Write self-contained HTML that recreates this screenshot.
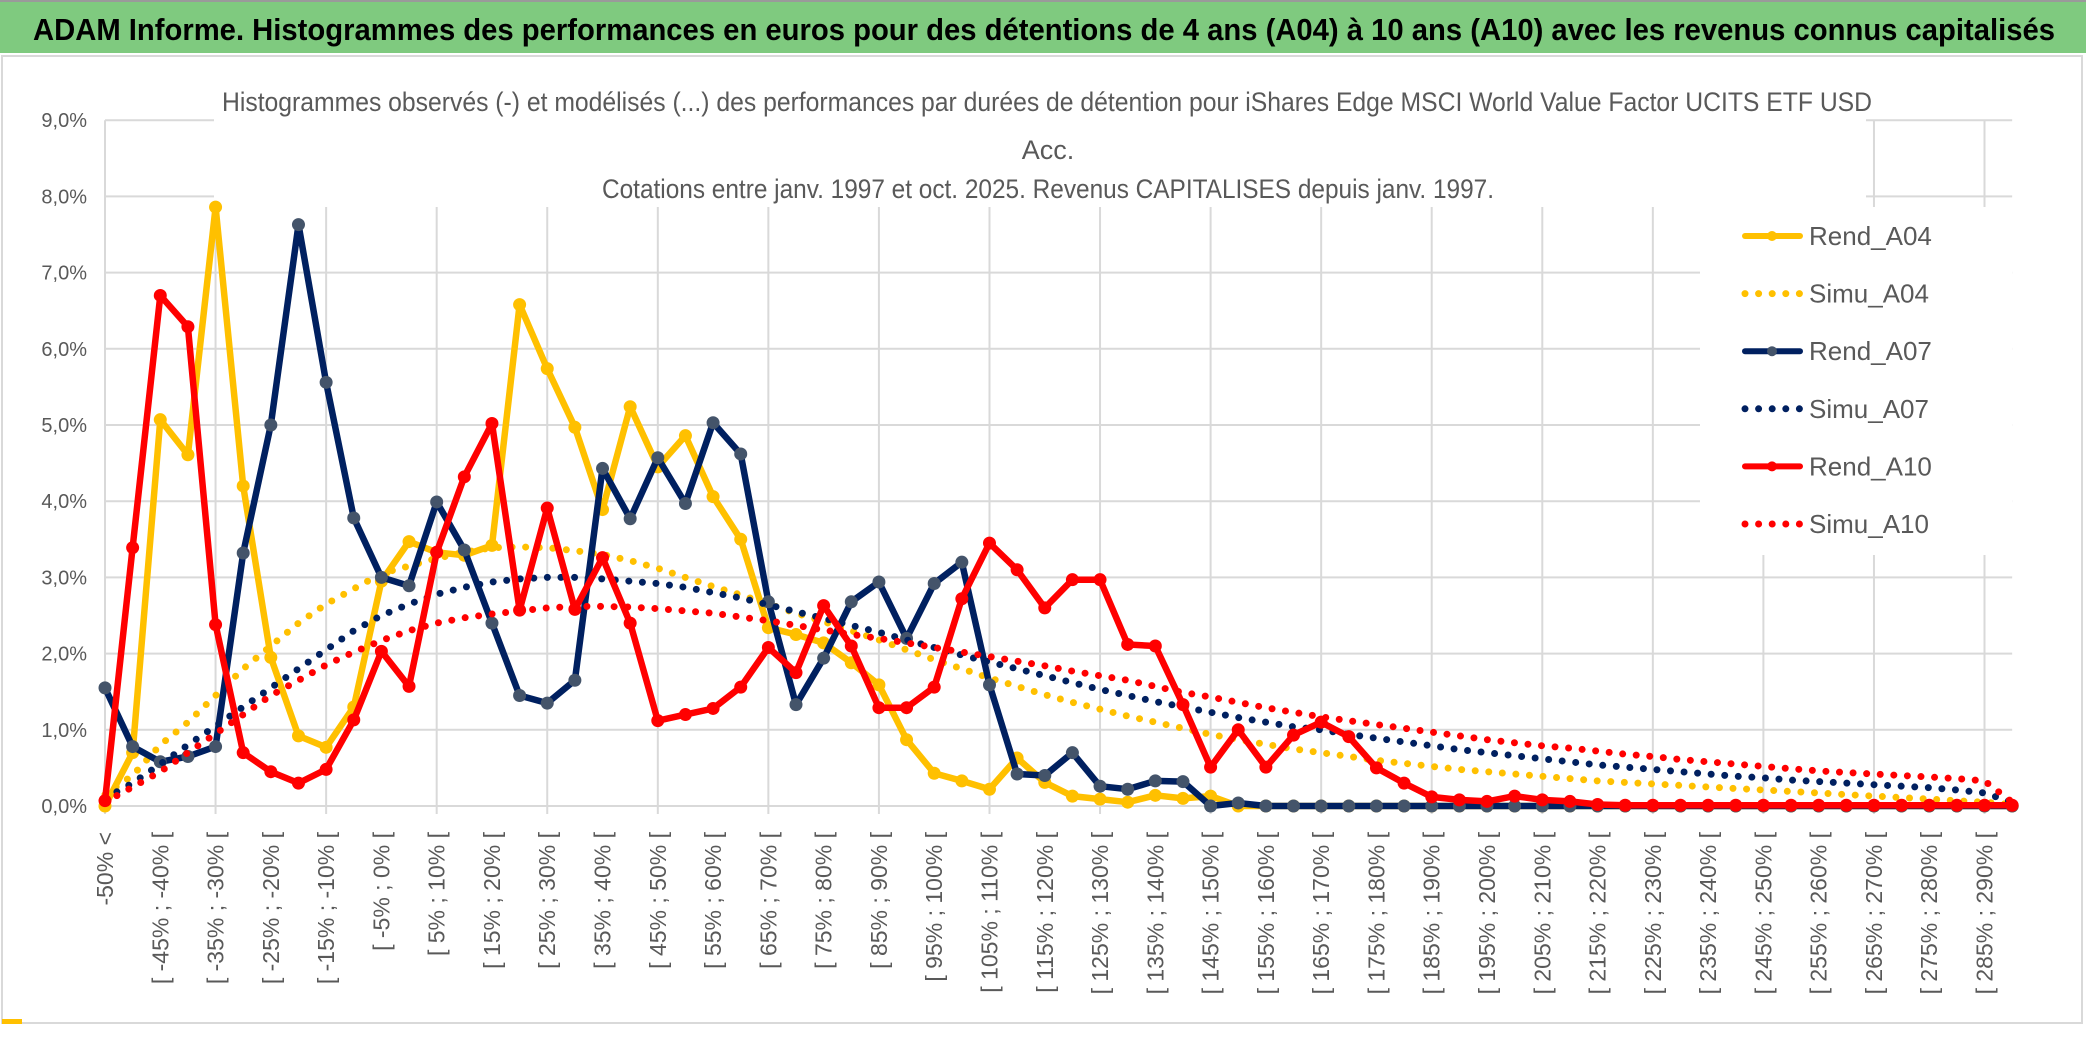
<!DOCTYPE html>
<html><head><meta charset="utf-8"><title>ADAM Informe</title>
<style>
html,body{margin:0;padding:0;background:#fff;}
body{width:2086px;height:1033px;overflow:hidden;font-family:"Liberation Sans",sans-serif;}
svg text{font-family:"Liberation Sans",sans-serif;}
</style></head>
<body>
<svg id="chart" width="2086" height="1033" viewBox="0 0 2086 1033" xmlns="http://www.w3.org/2000/svg">
  <rect x="0" y="0" width="2086" height="1033" fill="#fff"/>
  <rect x="0" y="0" width="2086" height="53" fill="#7fca7f"/>
  <line x1="0" y1="1" x2="2086" y2="1" stroke="#9a9a9a" stroke-width="2"/>
  <text x="33" y="40" font-size="31" font-weight="bold" fill="#000" textLength="2022" lengthAdjust="spacingAndGlyphs">ADAM Informe. Histogrammes des performances en euros pour des détentions de 4 ans (A04) à 10 ans (A10) avec les revenus connus capitalisés</text>
  <rect x="2" y="56" width="2080" height="967" fill="none" stroke="#d9d9d9" stroke-width="2"/>
  <g id="grid"></g>
  <rect x="214" y="58" width="1652" height="149" fill="#fff"/>
  <text x="222" y="111" font-size="27" fill="#595959" textLength="1650" lengthAdjust="spacingAndGlyphs">Histogrammes observés (-) et modélisés (...) des performances par durées de détention pour iShares Edge MSCI World Value Factor UCITS ETF USD</text>
  <text x="1048" y="159" font-size="27" fill="#595959" text-anchor="middle">Acc.</text>
  <text x="602" y="198" font-size="27" fill="#595959" textLength="892" lengthAdjust="spacingAndGlyphs">Cotations entre janv. 1997 et oct. 2025. Revenus CAPITALISES depuis janv. 1997.</text>
  <rect x="1700" y="207" width="312" height="348" fill="#fff"/>
  <g id="yaxis"></g>
  <g id="xaxis"></g>
  <g id="series"></g>
  <g id="legend"></g>
  <rect x="2" y="1019" width="20" height="5" fill="#ffc000"/>
</svg>
<script>
const yTicks = [0,1,2,3,4,5,6,7,8,9];
const rendA04 = [0.0,0.7,5.07,4.61,7.86,4.2,1.95,0.92,0.77,1.3,2.95,3.47,3.33,3.29,3.42,6.58,5.74,4.97,3.89,5.24,4.45,4.86,4.06,3.5,2.34,2.25,2.14,1.88,1.59,0.87,0.43,0.33,0.22,0.63,0.31,0.13,0.09,0.05,0.14,0.1,0.13,0,0,0,0,0,0,0,0,0,0,0,0,0,0,0,0,0,0,0,0,0,0,0,0,0,0,0,0,0];
const simuA04 = [0.15,0.4,0.8,1.1,1.45,1.8,2.1,2.4,2.65,2.85,3.05,3.15,3.25,3.33,3.39,3.4,3.39,3.35,3.3,3.22,3.12,3.0,2.88,2.77,2.65,2.53,2.42,2.3,2.18,2.05,1.92,1.8,1.68,1.57,1.46,1.36,1.27,1.18,1.1,1.02,0.94,0.87,0.81,0.75,0.7,0.65,0.6,0.56,0.52,0.48,0.45,0.42,0.39,0.36,0.33,0.31,0.29,0.27,0.25,0.23,0.21,0.19,0.17,0.15,0.13,0.11,0.09,0.07,0.05,0.02];
const rendA07 = [1.55,0.78,0.58,0.65,0.78,3.32,5.0,7.63,5.56,3.78,3.0,2.89,3.99,3.36,2.4,1.45,1.35,1.65,4.43,3.77,4.57,3.97,5.03,4.62,2.68,1.33,1.94,2.68,2.94,2.2,2.92,3.2,1.59,0.42,0.4,0.7,0.26,0.22,0.33,0.32,0,0.04,0,0,0,0,0,0,0,0,0,0,0,0,0,0,0,0,0,0,0,0,0,0,0,0,0,0,0,0];
const simuA07 = [0.1,0.3,0.55,0.8,1.05,1.3,1.55,1.8,2.05,2.3,2.5,2.65,2.78,2.87,2.94,2.98,3.0,3.0,2.98,2.95,2.92,2.87,2.8,2.73,2.64,2.55,2.46,2.37,2.28,2.18,2.08,1.98,1.89,1.8,1.71,1.62,1.53,1.45,1.37,1.3,1.23,1.16,1.1,1.04,1.0,0.94,0.89,0.84,0.79,0.74,0.7,0.66,0.62,0.58,0.54,0.51,0.48,0.45,0.42,0.39,0.37,0.34,0.32,0.3,0.28,0.26,0.24,0.21,0.17,0.05];
const rendA10 = [0.07,3.39,6.7,6.29,2.38,0.7,0.45,0.3,0.48,1.13,2.03,1.57,3.33,4.32,5.02,2.57,3.91,2.58,3.26,2.4,1.12,1.2,1.28,1.56,2.08,1.75,2.63,2.1,1.29,1.29,1.56,2.72,3.45,3.1,2.6,2.97,2.97,2.12,2.1,1.33,0.51,1.0,0.51,0.93,1.1,0.91,0.5,0.3,0.12,0.08,0.06,0.13,0.08,0.06,0.02,0.01,0.01,0.01,0.01,0.01,0.01,0.01,0.01,0.01,0.01,0.01,0.01,0.01,0.01,0.01];
const simuA10 = [0.05,0.25,0.45,0.7,0.95,1.2,1.45,1.65,1.85,2.02,2.17,2.3,2.4,2.47,2.52,2.56,2.6,2.62,2.62,2.61,2.59,2.56,2.53,2.48,2.43,2.37,2.31,2.25,2.2,2.14,2.08,2.02,1.96,1.9,1.84,1.77,1.71,1.65,1.57,1.49,1.43,1.36,1.29,1.23,1.17,1.12,1.07,1.02,0.97,0.92,0.87,0.83,0.79,0.76,0.72,0.68,0.65,0.61,0.58,0.55,0.52,0.49,0.46,0.44,0.42,0.4,0.38,0.36,0.33,0.05];
const legendLabels = ["Rend_A04","Simu_A04","Rend_A07","Simu_A07","Rend_A10","Simu_A10"];

const categories = [];
categories.push("-50% <");
for (let k = 1; k < 70; k++) { const lo = -50 + 5*(k-1); categories.push("[ " + lo + "% ; " + (lo+5) + "% ["); }

const NS = "http://www.w3.org/2000/svg";
const X0 = 105, STEP = 27.64, Y0 = 806, PER = 76.2;
function xs(k){ return X0 + STEP*k; }
function ys(v){ return Y0 - PER*v; }
function mk(tag, attrs, parent){ const e = document.createElementNS(NS, tag); for (const a in attrs) e.setAttribute(a, attrs[a]); parent.appendChild(e); return e; }

const grid = document.getElementById('grid');
yTicks.forEach(t => {
  const l = mk('line', {x1: X0, x2: xs(categories.length-1), y1: ys(t), y2: ys(t), stroke: '#d9d9d9', 'stroke-width': 2}, grid);
  
  
});
for (let k = 0; k < categories.length; k += 4) {
  const l = mk('line', {x1: xs(k), x2: xs(k), y1: ys(yTicks[yTicks.length-1]), y2: Y0 + 8, stroke: '#d9d9d9', 'stroke-width': 2}, grid);
  
  
}

const yaxis = document.getElementById('yaxis');
yTicks.forEach(t => {
  const tx = mk('text', {x: 87, y: ys(t) + 7, 'text-anchor': 'end', 'font-size': 20, fill: '#595959'}, yaxis);
  tx.textContent = t.toFixed(1).replace('.', ',') + '%';
  
  
});

const xaxis = document.getElementById('xaxis');
for (let k = 0; k < categories.length; k += 2) {
  const cx = xs(k) + 8;
  const tx = mk('text', {x: cx, y: 832, 'text-anchor': 'end', 'font-size': 23, fill: '#595959', transform: 'rotate(-90 ' + cx + ' 832)'}, xaxis);
  tx.textContent = categories[k];
  
  
}

const series = document.getElementById('series');
function pts(arr){ return arr.map((v,k) => xs(k).toFixed(1) + ',' + ys(v).toFixed(1)).join(' '); }
function drawRend(arr, color, mcolor, name){
  const g = mk('g', {}, series);
  
  
  const pl = mk('polyline', {points: pts(arr), fill: 'none', stroke: color, 'stroke-width': 6.5, 'stroke-linejoin': 'round', 'stroke-linecap': 'round'}, g);
  
  
  arr.forEach((v,k) => {
    const c = mk('circle', {cx: xs(k), cy: ys(v), r: 6.5, fill: mcolor}, g);
    
    
  });
}
function drawSimu(arr, color, name){
  const pl = mk('polyline', {points: pts(arr), fill: 'none', stroke: color, 'stroke-width': 7, 'stroke-linecap': 'round', 'stroke-dasharray': '0 13.6'}, series);
  
  
}
drawRend(rendA04, '#ffc000', '#ffc000', 'rend-a04');
drawSimu(simuA04, '#ffc000', 'simu-a04');
drawRend(rendA07, '#002060', '#44546a', 'rend-a07');
drawSimu(simuA07, '#002060', 'simu-a07');
drawRend(rendA10, '#ff0000', '#ff0000', 'rend-a10');
drawSimu(simuA10, '#ff0000', 'simu-a10');

const legend = document.getElementById('legend');
const legColors = ['#ffc000','#ffc000','#002060','#002060','#ff0000','#ff0000'];
const legMarkers = ['#ffc000', null, '#44546a', null, '#ff0000', null];
legendLabels.forEach((lab, i) => {
  const y = 236 + 57.6*i;
  const g = mk('g', {}, legend);
  
  
  if (legMarkers[i]) {
    mk('line', {x1: 1745, x2: 1800, y1: y, y2: y, stroke: legColors[i], 'stroke-width': 6, 'stroke-linecap': 'round'}, g);
    mk('circle', {cx: 1772, cy: y, r: 5, fill: legMarkers[i]}, g);
  } else {
    mk('line', {x1: 1745, x2: 1802, y1: y, y2: y, stroke: legColors[i], 'stroke-width': 7, 'stroke-linecap': 'round', 'stroke-dasharray': '0 13.6'}, g);
  }
  const t = mk('text', {x: 1809, y: y + 9, 'font-size': 26, fill: '#595959'}, g);
  t.textContent = lab;
});
</script>
</body></html>
